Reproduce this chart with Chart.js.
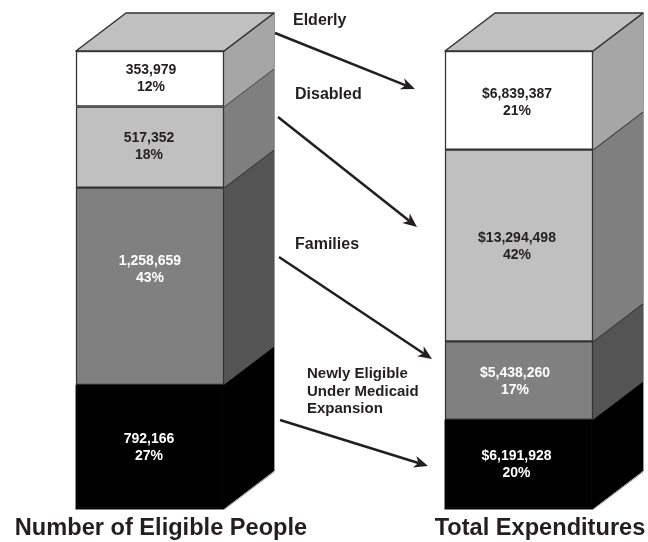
<!DOCTYPE html>
<html lang="en">
<head>
  <meta charset="UTF-8">
  <title>Eligible People and Total Expenditures</title>
  <script src="https://cdn.jsdelivr.net/npm/chart.js"></script>
  <style>
    html, body { margin:0; padding:0; background:#fff; }
    canvas { display:block; }
  </style>
</head>
<body>
<canvas id="chart" width="648" height="542"></canvas>

<script>
  // Data, bottom of the stack first
  const categories = ["Number of Eligible People", "Total Expenditures"];
  const groups = ["Newly Eligible", "Families", "Disabled", "Elderly"];
  const newlyEligible = [792166, 6191928];
  const families = [1258659, 5438260];
  const disabled = [517352, 13294498];
  const elderly = [353979, 6839387];
  const newlyEligiblePct = [27, 20];
  const familiesPct = [43, 17];
  const disabledPct = [18, 42];
  const elderlyPct = [12, 21];

  const allValues = [newlyEligible, families, disabled, elderly];
  const allPct = [newlyEligiblePct, familiesPct, disabledPct, elderlyPct];
  const totals = categories.map((c, j) => allValues.reduce((s, v) => s + v[j], 0));

  const frontColors = ["#000000", "#808080", "#c0c0c0", "#ffffff"];
  const sideColors = ["#000000", "#545454", "#7f7f7f", "#a6a6a6"];
  const edgeColors = ["#000000", "#333333", "#333333", "#333333"];
  const textColors = ["#ffffff", "#ffffff", "#231f20", "#231f20"];
  const INK = "#231f20";
  const DX = 50, DY = 38; // depth of the 3d box
  const FONT = "'Liberation Sans', Arial, sans-serif";

  // Annotations: side labels, arrows, and where the titles sit
  const sideLabels = [
    { text:"Elderly", x:293, y:21, size:16 },
    { text:"Disabled", x:295, y:95, size:16 },
    { text:"Families", x:295, y:245, size:16 },
    { text:"Newly Eligible", x:307, y:374, size:15 },
    { text:"Under Medicaid", x:307, y:392, size:15 },
    { text:"Expansion", x:307, y:409, size:15 }
  ];
  const arrows = [
    [275, 33, 415, 89],
    [278, 117, 417, 227],
    [279, 257, 432, 359],
    [280, 420, 428, 466]
  ];
  const titleCenters = [161, 540];
  // the labels are not quite centred in the boxes: [dx, dy] per category
  const labelNudge = [
    [[-1, 1], [-2.5, 1]],
    [[0, -16], [-4, 2]],
    [[-1, 0], [-2, 2]],
    [[1, 0], [-2, 3]]
  ];

  function money(v, j) {
    return (j === 1 ? "$" : "") + v.toLocaleString("en-US");
  }

  const boxPlugin = {
    id: "box3d",
    beforeDatasetsDraw(chart) {
      const ctx = chart.ctx;
      ctx.save();
      ctx.lineJoin = "round";
      chart.data.datasets.forEach((ds, i) => {
        chart.getDatasetMeta(i).data.forEach(bar => {
          const r = bar.x + bar.width / 2;
          ctx.beginPath();
          ctx.moveTo(r, bar.y);
          ctx.lineTo(r + DX, bar.y - DY);
          ctx.lineTo(r + DX, bar.base - DY);
          ctx.lineTo(r, bar.base);
          ctx.closePath();
          ctx.fillStyle = sideColors[i];
          ctx.fill();
          ctx.strokeStyle = edgeColors[i];
          ctx.lineWidth = 1.5;
          ctx.beginPath();
          ctx.moveTo(r, bar.y);
          ctx.lineTo(r + DX, bar.y - DY);
          ctx.stroke();
          // pale outer edge
          ctx.strokeStyle = "#9a9a9a";
          ctx.lineWidth = 1;
          ctx.beginPath();
          ctx.moveTo(r + DX + 0.5, bar.y - DY);
          ctx.lineTo(r + DX + 0.5, bar.base - DY);
          ctx.stroke();
        });
      });
      // top face
      const last = chart.data.datasets.length - 1;
      chart.getDatasetMeta(last).data.forEach(bar => {
        const l = bar.x - bar.width / 2, r = bar.x + bar.width / 2;
        ctx.beginPath();
        ctx.moveTo(l, bar.y);
        ctx.lineTo(l + DX, bar.y - DY);
        ctx.lineTo(r + DX, bar.y - DY);
        ctx.lineTo(r, bar.y);
        ctx.closePath();
        ctx.fillStyle = "#c0c0c0";
        ctx.fill();
        ctx.strokeStyle = "#333333";
        ctx.lineWidth = 1.5;
        ctx.stroke();
      });
      ctx.restore();
    },
    afterDatasetsDraw(chart) {
      const ctx = chart.ctx;
      ctx.save();

      // grey rim round the black box
      chart.getDatasetMeta(0).data.forEach(bar => {
        const l = bar.x - bar.width / 2, r = bar.x + bar.width / 2;
        ctx.strokeStyle = "#8a8a8a";
        ctx.lineWidth = 1;
        ctx.beginPath();
        ctx.moveTo(l - 0.5, bar.y);
        ctx.lineTo(l - 0.5, bar.base + 0.5);
        ctx.lineTo(r, bar.base + 0.5);
        ctx.lineTo(r + DX + 0.5, bar.base - DY + 0.5);
        ctx.stroke();
      });

      ctx.textAlign = "center";
      ctx.textBaseline = "middle";
      ctx.font = "bold 14px " + FONT;
      chart.data.datasets.forEach((ds, i) => {
        chart.getDatasetMeta(i).data.forEach((bar, j) => {
          const n = labelNudge[i][j];
          const cx = bar.x + n[0];
          const cy = (bar.y + bar.base) / 2 + n[1];
          ctx.fillStyle = textColors[i];
          ctx.fillText(money(allValues[i][j], j), cx, cy - 9);
          ctx.fillText(allPct[i][j] + "%", cx, cy + 8);
        });
      });

      ctx.textAlign = "left";
      ctx.fillStyle = INK;
      sideLabels.forEach(t => {
        ctx.font = "bold " + t.size + "px " + FONT;
        ctx.fillText(t.text, t.x, t.y);
      });

      ctx.textAlign = "center";
      ctx.font = "bold 23.6px " + FONT;
      categories.forEach((c, j) => ctx.fillText(c, titleCenters[j], 528));

      arrows.forEach(a => {
        const ang = Math.atan2(a[3] - a[1], a[2] - a[0]);
        const len = 14, wid = 6, notch = 10;
        const cos = Math.cos(ang), sin = Math.sin(ang);
        const bx = a[2] - len * cos, by = a[3] - len * sin;
        const nx = a[2] - notch * cos, ny = a[3] - notch * sin;
        ctx.strokeStyle = INK;
        ctx.lineWidth = 2.5;
        ctx.beginPath();
        ctx.moveTo(a[0], a[1]);
        ctx.lineTo(nx, ny);
        ctx.stroke();
        ctx.fillStyle = INK;
        ctx.beginPath();
        ctx.moveTo(a[2], a[3]);
        ctx.lineTo(bx - wid * sin, by + wid * cos);
        ctx.lineTo(nx, ny);
        ctx.lineTo(bx + wid * sin, by - wid * cos);
        ctx.closePath();
        ctx.fill();
      });
      ctx.restore();
    }
  };

  new Chart(document.getElementById("chart"), {
    type: "bar",
    data: {
      labels: categories,
      datasets: groups.map((g, i) => ({
        label: g,
        // each box is drawn as share of its own total
        data: allValues[i].map((v, j) => v / totals[j] * 100),
        backgroundColor: frontColors[i],
        borderColor: edgeColors[i],
        borderWidth: 1.5,
        borderSkipped: false,
        barThickness: 148,
        clip: false
      }))
    },
    options: {
      responsive: false,
      animation: false,
      layout: { padding: { left: 150, right: 129, top: 51, bottom: 33 } },
      plugins: { legend: { display: false }, tooltip: { enabled: false } },
      scales: {
        x: { stacked: true, offset: false, display: false },
        y: { stacked: true, min: 0, max: 100, display: false }
      }
    },
    plugins: [boxPlugin]
  });
</script>
</body>
</html>
